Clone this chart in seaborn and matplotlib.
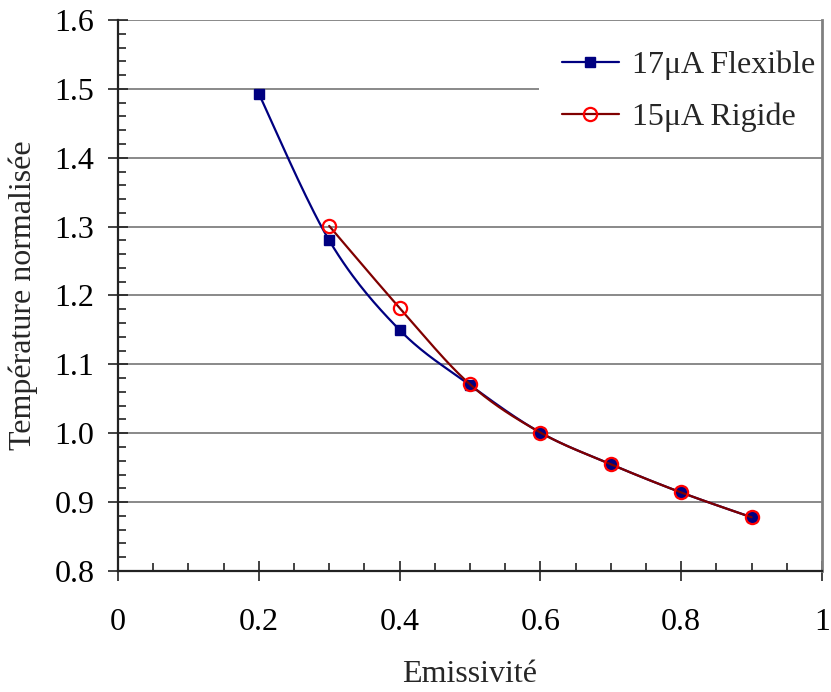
import numpy as np
import pandas as pd
import matplotlib
matplotlib.use("Agg")
import matplotlib.pyplot as plt
from matplotlib.lines import Line2D
from matplotlib.ticker import MultipleLocator, FormatStrFormatter
import seaborn as sns

# ---- data ----
flex_x = [0.2, 0.3, 0.4, 0.5, 0.6, 0.7, 0.8, 0.9]
flex_y = [1.493, 1.280, 1.150, 1.070, 1.001, 0.955, 0.914, 0.878]
rig_x = [0.3, 0.4, 0.5, 0.6, 0.7, 0.8, 0.9]
rig_y = [1.301, 1.182, 1.071, 1.001, 0.955, 0.914, 0.878]
series_names = ["17\u03bcA Flexible", "15\u03bcA Rigide"]
x_label = "Emissivit\u00e9"
y_label = "Temp\u00e9rature normalis\u00e9e"

sns.set_theme(style="white")
plt.rcParams["font.family"] = ["Liberation Serif", "DejaVu Serif"]

FS = 23
NAVY = "#000080"
DARKRED = "#800000"
RED = "#FF0000"


def smooth(xs, ys, n=30):
    # Excel-like smoothed line: cubic Bezier through points (Catmull-Rom tangents)
    xs = np.asarray(xs, float)
    ys = np.asarray(ys, float)
    P = np.column_stack([xs, ys])
    out = []
    m = len(P)
    for i in range(m - 1):
        p0 = P[i - 1] if i > 0 else P[i]
        p1 = P[i]
        p2 = P[i + 1]
        p3 = P[i + 2] if i + 2 < m else P[i + 1]
        c1 = p1 + (p2 - p0) / 6.0
        c2 = p2 - (p3 - p1) / 6.0
        t = np.linspace(0, 1, n, endpoint=(i == m - 2))[:, None]
        seg = ((1 - t) ** 3) * p1 + 3 * ((1 - t) ** 2) * t * c1 + 3 * (1 - t) * t ** 2 * c2 + t ** 3 * p2
        out.append(seg)
    out = np.vstack(out)
    return out[:, 0], out[:, 1]


fig = plt.figure(figsize=(8.31, 6.92), dpi=100)
ax = fig.add_axes([118 / 831, 1 - 571 / 692, (822 - 118) / 831, (571 - 20) / 692])

fx, fy = smooth(flex_x, flex_y)
rx, ry = smooth(rig_x, rig_y)
df_f = pd.DataFrame({"x": fx, "y": fy})
df_r = pd.DataFrame({"x": rx, "y": ry})

# gridlines
ax.set_axisbelow(True)
ax.yaxis.grid(True, which="major", color="#808080", linewidth=1.3)
ax.xaxis.grid(False)

sns.lineplot(data=df_f, x="x", y="y", sort=False, estimator=None, color=NAVY, lw=1.6, ax=ax, zorder=3)
ax.plot(flex_x, flex_y, linestyle="none", marker="s", markersize=7.5,
        markerfacecolor=NAVY, markeredgecolor=NAVY, zorder=4)
sns.lineplot(data=df_r, x="x", y="y", sort=False, estimator=None, color=DARKRED, lw=1.6, ax=ax, zorder=5)
ax.plot(rig_x, rig_y, linestyle="none", marker="o", markersize=9.5,
        markerfacecolor="none", markeredgecolor=RED, markeredgewidth=1.6, zorder=6)

ax.set_xlim(0, 1)
ax.set_ylim(0.8, 1.6)
ax.xaxis.set_major_locator(MultipleLocator(0.2))
ax.xaxis.set_minor_locator(MultipleLocator(0.05))
ax.yaxis.set_major_locator(MultipleLocator(0.1))
ax.yaxis.set_minor_locator(MultipleLocator(0.02))
ax.xaxis.set_major_formatter(matplotlib.ticker.FuncFormatter(lambda v, p: f"{v:g}"))
ax.yaxis.set_major_formatter(FormatStrFormatter("%.1f"))

ax.spines["top"].set_visible(False)
ax.spines["right"].set_color("#808080")
ax.spines["right"].set_linewidth(2)
for s in ["left", "bottom"]:
    ax.spines[s].set_color("#222222")
    ax.spines[s].set_linewidth(1.6)

ax.tick_params(axis="both", which="major", direction="inout", length=14, width=1.2,
               color="#222222", labelsize=FS, labelcolor="black")
ax.tick_params(axis="x", which="major", pad=20)
ax.tick_params(axis="y", which="major", pad=10)
ax.tick_params(axis="both", which="minor", direction="in", length=6, width=1.2, color="#222222")
ax.tick_params(axis="x", which="both", bottom=True)
ax.tick_params(axis="y", which="both", left=True)

ax.set_xlabel(x_label, fontsize=FS, labelpad=16)
ax.set_ylabel(y_label, fontsize=FS, labelpad=12)

handles = [
    Line2D([], [], color=NAVY, lw=1.6, marker="s", markersize=7.5, markerfacecolor=NAVY, markeredgecolor=NAVY),
    Line2D([], [], color=DARKRED, lw=1.6, marker="o", markersize=9.5, markerfacecolor="none",
           markeredgecolor=RED, markeredgewidth=1.6),
]
leg = ax.legend(handles, series_names, loc="upper right", bbox_to_anchor=(1.022, 0.9855),
                fontsize=FS, frameon=True, fancybox=False, framealpha=1, facecolor="white",
                edgecolor="none", handlelength=1.8, handletextpad=0.4, labelspacing=0.7,
                borderpad=0.7, borderaxespad=0)
leg.set_zorder(2.4)

fig.savefig("out.png", dpi=100)
